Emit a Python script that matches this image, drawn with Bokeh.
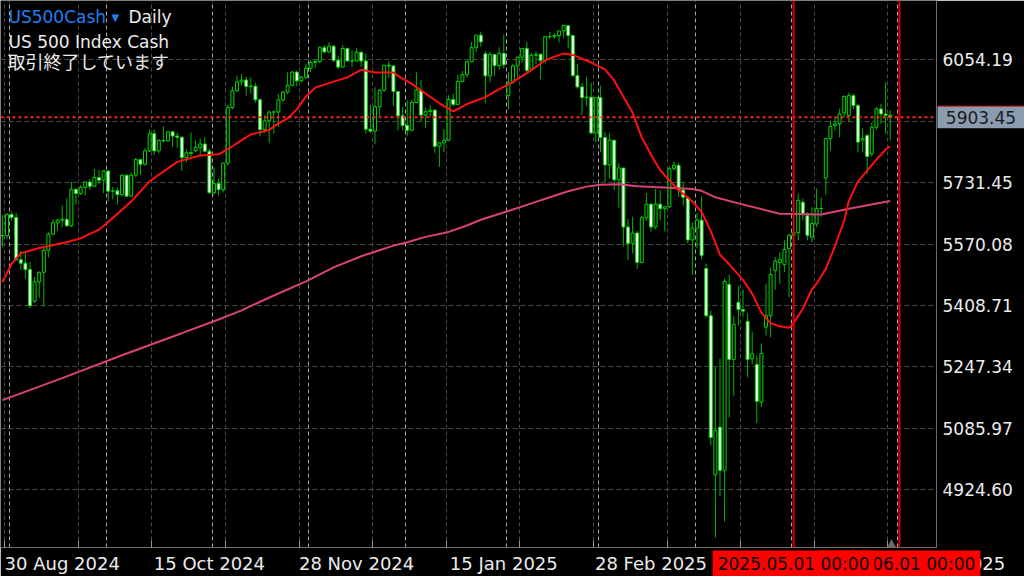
import pandas as pd
from bokeh.plotting import figure
from bokeh.models import (Range1d, FixedTicker, NumeralTickFormatter, ColumnDataSource,
                          Label, Span, Grid)
from bokeh.core.properties import value
from bokeh.embed import file_html
from bokeh.resources import INLINE

# ---------------- data ----------------
closed_days = ["2024-12-25", "2025-01-01", "2025-04-18"]
dates = [d for d in pd.bdate_range("2024-08-29", "2025-05-30")
         if d.strftime("%Y-%m-%d") not in closed_days]

opens = [
    5592, 5592, 5648, 5640, 5529, 5520, 5503, 5420, 5471, 5496,
    5554, 5596, 5626, 5633, 5635, 5618, 5714, 5703, 5719, 5733,
    5722, 5745, 5738, 5762, 5709, 5710, 5700, 5751, 5696, 5751,
    5792, 5780, 5815, 5860, 5815, 5842, 5841, 5865, 5854, 5851,
    5797, 5810, 5815, 5824, 5833, 5814, 5705, 5729, 5713, 5783,
    5929, 5973, 5996, 6001, 5984, 5985, 5949, 5871, 5894, 5917,
    5917, 5949, 5969, 5987, 6022, 5999, 6008, 6032, 6047, 6050,
    6086, 6075, 6090, 6053, 6035, 6084, 6051, 6051, 6074, 6051,
    5872, 5867, 5931, 5974, 6040, 6038, 5971, 5907, 5882, 5869,
    5942, 5975, 5909, 5918, 5922, 5827, 5836, 5843, 5950, 5937,
    5997, 6015, 6049, 6086, 6119, 6070, 6012, 6068, 6039, 6071,
    5960, 5995, 6038, 6061, 6084, 6030, 6066, 6069, 6052, 6115,
    6115, 6118, 6130, 6144, 6118, 6013, 5983, 5955, 5956, 5862,
    5955, 5850, 5778, 5843, 5739, 5770, 5615, 5572, 5599, 5522,
    5639, 5675, 5615, 5675, 5663, 5668, 5768, 5777, 5712, 5693,
    5581, 5612, 5633, 5506, 5382, 4964, 5089, 4976, 5464, 5267,
    5417, 5398, 5367, 5269, 5254, 5155, 5352, 5382, 5501, 5522,
    5516, 5558, 5593, 5600, 5680, 5645, 5588, 5623, 5663, 5744,
    5847, 5882, 5886, 5915, 5908, 5960, 5934, 5843, 5855, 5807,
    5877, 5925, 5912, 5908]
highs = [
    5647, 5651, 5656, 5652, 5552, 5546, 5523, 5484, 5498, 5560,
    5601, 5636, 5636, 5671, 5690, 5734, 5715, 5725, 5735, 5741,
    5767, 5765, 5765, 5765, 5720, 5719, 5753, 5752, 5758, 5797,
    5793, 5822, 5871, 5871, 5846, 5879, 5867, 5867, 5863, 5852,
    5818, 5863, 5843, 5847, 5851, 5820, 5772, 5741, 5784, 5936,
    5984, 6013, 6017, 6010, 6008, 5994, 5953, 5908, 5921, 5921,
    5964, 5973, 6021, 6025, 6025, 6012, 6044, 6054, 6053, 6090,
    6092, 6100, 6092, 6065, 6093, 6086, 6079, 6085, 6076, 6071,
    5936, 5982, 5978, 6040, 6050, 6040, 5972, 5930, 5949, 5949,
    6021, 6001, 5928, 5935, 5924, 5837, 5872, 5961, 5965, 6014,
    6025, 6052, 6101, 6119, 6128, 6078, 6075, 6070, 6087, 6121,
    6022, 6043, 6063, 6085, 6101, 6073, 6076, 6070, 6117, 6128,
    6125, 6130, 6147, 6145, 6120, 6044, 5993, 6010, 5994, 5956,
    5986, 5865, 5861, 5843, 5783, 5770, 5636, 5642, 5605, 5645,
    5704, 5676, 5715, 5711, 5671, 5775, 5787, 5784, 5732, 5695,
    5627, 5651, 5695, 5519, 5395, 5248, 5269, 5480, 5490, 5380,
    5461, 5451, 5388, 5340, 5277, 5309, 5466, 5509, 5536, 5549,
    5580, 5597, 5660, 5703, 5690, 5654, 5667, 5716, 5693, 5850,
    5895, 5903, 5926, 5960, 5968, 5965, 5939, 5874, 5860, 5890,
    5930, 5939, 5995, 5922]
lows = [
    5561, 5582, 5632, 5527, 5503, 5480, 5402, 5415, 5429, 5406,
    5535, 5594, 5604, 5614, 5615, 5615, 5674, 5700, 5698, 5712,
    5721, 5727, 5704, 5682, 5688, 5674, 5695, 5694, 5694, 5745,
    5751, 5775, 5812, 5804, 5808, 5838, 5840, 5825, 5823, 5762,
    5785, 5799, 5812, 5803, 5811, 5703, 5700, 5697, 5706, 5775,
    5924, 5970, 5987, 5960, 5966, 5942, 5853, 5862, 5835, 5861,
    5878, 5944, 5964, 5985, 5985, 5995, 6003, 6022, 6033, 6045,
    6071, 6072, 6048, 6030, 6033, 6050, 6036, 6050, 6035, 5860,
    5862, 5832, 5903, 5970, 6007, 5933, 5869, 5869, 5853, 5866,
    5940, 5891, 5875, 5905, 5810, 5773, 5812, 5840, 5931, 5935,
    5995, 6007, 6048, 6075, 6089, 5940, 5995, 6013, 6028, 6031,
    5924, 5991, 6007, 6046, 6020, 6028, 6042, 6003, 6045, 6108,
    6110, 6100, 6111, 6085, 6009, 5978, 5909, 5933, 5859, 5838,
    5811, 5733, 5742, 5712, 5666, 5564, 5528, 5546, 5505, 5520,
    5631, 5603, 5609, 5633, 5603, 5665, 5764, 5694, 5671, 5572,
    5489, 5559, 5530, 5377, 5041, 4799, 4907, 4841, 5114, 5172,
    5356, 5380, 5220, 5254, 5100, 5142, 5330, 5325, 5450, 5466,
    5497, 5430, 5585, 5580, 5632, 5580, 5575, 5614, 5641, 5700,
    5816, 5868, 5851, 5903, 5890, 5925, 5811, 5811, 5755, 5800,
    5870, 5886, 5860, 5842]
closes = [
    5592, 5648, 5640, 5529, 5520, 5503, 5408, 5471, 5496, 5554,
    5596, 5626, 5633, 5635, 5618, 5714, 5703, 5719, 5733, 5722,
    5745, 5738, 5762, 5709, 5710, 5700, 5751, 5696, 5751, 5792,
    5780, 5815, 5860, 5815, 5842, 5841, 5865, 5854, 5851, 5797,
    5810, 5808, 5824, 5833, 5814, 5705, 5729, 5713, 5783, 5929,
    5973, 5996, 6001, 5984, 5985, 5949, 5871, 5894, 5917, 5917,
    5949, 5969, 5987, 6022, 5999, 6008, 6032, 6047, 6050, 6086,
    6075, 6090, 6053, 6035, 6084, 6051, 6051, 6074, 6051, 5872,
    5867, 5931, 5974, 6040, 6038, 5971, 5907, 5882, 5869, 5942,
    5975, 5909, 5918, 5922, 5827, 5836, 5843, 5950, 5937, 5997,
    6015, 6049, 6086, 6119, 6101, 6012, 6068, 6039, 6071, 6041,
    5995, 6038, 6061, 6084, 6026, 6066, 6069, 6052, 6115, 6115,
    6118, 6130, 6144, 6118, 6013, 5983, 5955, 5956, 5862, 5955,
    5850, 5778, 5843, 5739, 5770, 5615, 5572, 5599, 5522, 5639,
    5675, 5615, 5675, 5663, 5668, 5768, 5777, 5712, 5693, 5581,
    5612, 5633, 5540, 5382, 5062, 5080, 4976, 5472, 5267, 5359,
    5398, 5394, 5267, 5282, 5157, 5283, 5382, 5490, 5525, 5530,
    5556, 5593, 5600, 5685, 5650, 5593, 5624, 5663, 5664, 5847,
    5879, 5886, 5912, 5958, 5960, 5934, 5838, 5847, 5800, 5877,
    5925, 5912, 5908, 5903.45]

# moving averages (bar index, value)
ma20_idx = [0, 2, 4, 8, 14, 17, 21, 23, 28, 32, 38, 43, 47, 50, 52, 54, 58, 60, 62, 64,
            66, 68, 71, 75, 78, 81, 85, 86, 89, 91, 95, 98, 101, 105, 108, 111, 115, 118,
            122, 124, 128, 131, 133, 134, 137, 139, 141, 143, 145, 147, 150, 152, 154, 156,
            158, 161, 163, 165, 167, 169, 171, 172, 174, 176, 177, 179, 181, 183, 184, 186,
            188, 190, 192, 193]
ma20_val = [5470, 5518, 5546, 5560, 5575, 5585, 5608, 5628, 5682, 5735, 5786, 5803, 5806,
            5827, 5843, 5858, 5870, 5887, 5900, 5924, 5958, 5981, 5993, 6008, 6028, 6021,
            6021, 6012, 5991, 5974, 5940, 5919, 5938, 5956, 5977, 5996, 6027, 6053, 6071,
            6067, 6047, 6029, 6000, 5978, 5915, 5850, 5805, 5764, 5737, 5712, 5682, 5655,
            5604, 5542, 5517, 5476, 5440, 5390, 5362, 5354, 5350, 5362, 5400, 5452, 5466,
            5505, 5565, 5632, 5683, 5735, 5763, 5792, 5818, 5827]
ma200_idx = [0, 13, 26, 39, 47, 52, 59, 66, 72, 78, 81, 85, 88, 92, 97, 101, 104, 110, 115,
             119, 123, 127, 130, 134, 138, 145, 150, 152, 155, 160, 169, 178, 184, 193]
ma200_val = [5160, 5218, 5278, 5336, 5372, 5396, 5435, 5472, 5509, 5538, 5550, 5566, 5575,
             5589, 5602, 5619, 5634, 5657, 5677, 5693, 5709, 5721, 5726, 5727, 5722, 5718,
             5715, 5710, 5693, 5677, 5650, 5648, 5663, 5683]

price_ticks = [6054.19, 5892.82, 5731.45, 5570.08, 5408.71, 5247.34, 5085.97, 4924.60]
last_price = 5903.45
symbol, timeframe = "US500Cash", "Daily"
description, status = "US 500 Index Cash", "取引終了しています"
marker_dates = ["2025.05.01 00:00", "2025.06.01 00:00"]

# ---------------- geometry ----------------
BAR_PX, X0_PX = 4.6, 1.9          # pixels per bar, pixel of the first bar
PTS_PER_PX, TOP_PRICE = 2.627, 6209.97
FRAME_W, FRAME_H = 936, 547
FONT = "DejaVu Sans"
TXT = "#ececec"
ABS = {"position": "absolute", "left": "0px", "top": "0px"}


def px_x(px):
    return (px - X0_PX) / BAR_PX


def px_y(py):
    return TOP_PRICE - PTS_PER_PX * py


n = len(dates)
idx = list(range(n))

p = figure(width=1024, height=576,
           x_range=Range1d(px_x(0), px_x(FRAME_W)),
           y_range=Range1d(px_y(FRAME_H), px_y(0)),
           output_backend="svg", toolbar_location=None, y_axis_location="right",
           background_fill_color="black", border_fill_color="black",
           outline_line_color=None,
           min_border_left=0, min_border_top=0, min_border_right=1024 - FRAME_W,
           min_border_bottom=576 - FRAME_H, styles=ABS)

# grid: regular (every 16 bars) and month separators
grid_ticks = [k + 0.5 for k in range(0, n + 16, 16)]
sep_ticks = [i - 0.4 for i in range(1, n) if dates[i].month != dates[i - 1].month]
sep_ticks.append(n - 1 + 2 - 0.4)
label_bars = list(range(1, n, 32))
LABEL_SHIFT = 12  # labels start at their bar, centred text -> shift right
label_ticks = [b + LABEL_SHIFT for b in label_bars]

xa = p.xaxis[0]
xa.ticker = FixedTicker(ticks=label_ticks, minor_ticks=grid_ticks)
xa.major_label_overrides = {b + LABEL_SHIFT: dates[b].strftime("%d %b %Y") for b in label_bars}
xa.major_label_text_font = FONT
xa.major_label_text_font_size = "18px"
xa.major_label_text_color = TXT
xa.major_tick_line_color = None
xa.major_tick_in = 0
xa.major_tick_out = 0
xa.minor_tick_in = 7
xa.minor_tick_out = 0
xa.minor_tick_line_color = "#9a9a9a"
xa.axis_line_color = "#6e6e6e"
xa.major_label_standoff = 5

ya = p.yaxis[0]
ya.ticker = FixedTicker(ticks=price_ticks)
ya.formatter = NumeralTickFormatter(format="0.00")
ya.major_tick_in = 0
ya.major_tick_out = 0
ya.minor_tick_line_color = None
ya.major_label_standoff = 6
ya.major_label_text_font = FONT
ya.major_label_text_font_size = "17px"
ya.major_label_text_color = TXT
ya.axis_line_color = "#6e6e6e"

p.ygrid[0].ticker = FixedTicker(ticks=price_ticks)
p.ygrid[0].grid_line_color = "#4a4a4a"
p.ygrid[0].grid_line_dash = "5 3"
p.xgrid[0].ticker = FixedTicker(ticks=grid_ticks)
p.xgrid[0].grid_line_color = "#4a4a4a"
p.xgrid[0].grid_line_dash = "4 3"
p.add_layout(Grid(dimension=0, ticker=FixedTicker(ticks=sep_ticks),
                  grid_line_color="#a6a6a6", grid_line_dash="4 3"))

# candles
tops = [max(o, c) for o, c in zip(opens, closes)]
bots = [min(o, c) for o, c in zip(opens, closes)]
fills = ["black" if c >= o else "white" for o, c in zip(opens, closes)]
src = ColumnDataSource(dict(x=idx, h=highs, l=lows, top=tops, bottom=bots, fill=fills))
p.segment(x0="x", y0="h", x1="x", y1="l", source=src, line_color="#00b800", line_width=1)
p.vbar(x="x", width=0.64, top="top", bottom="bottom", source=src,
       fill_color="fill", line_color="#00d800", line_width=1)

# moving averages
p.line(ma200_idx, ma200_val, line_color="#d8427a", line_width=2)
p.line(ma20_idx, ma20_val, line_color="#ff1010", line_width=2)

# current price & vertical time markers
p.add_layout(Span(location=last_price, dimension="width", line_color="#ff2020",
                  line_dash="3 3", line_width=2))
marker_x = [172, n - 1 + 2]
for mx in marker_x:
    p.add_layout(Span(location=mx, dimension="height", line_color="#e00000", line_width=2))

# header texts
p.add_layout(Label(x=px_x(8), y=px_y(16), text=symbol, text_color="#1f7fee",
                   text_font=FONT, text_font_size="17px", text_baseline="middle"))
p.add_layout(Label(x=px_x(111), y=px_y(17), text="▼", text_color="#1f7fee",
                   text_font=FONT, text_font_size="10px", text_baseline="middle"))
p.add_layout(Label(x=px_x(128), y=px_y(16), text=timeframe, text_color=TXT,
                   text_font=FONT, text_font_size="17px", text_baseline="middle"))
p.add_layout(Label(x=px_x(8), y=px_y(41), text=description, text_color=TXT,
                   text_font=FONT, text_font_size="17px", text_baseline="middle"))
p.add_layout(Label(x=px_x(7), y=px_y(60), text=status, text_color=TXT,
                   text_font="Noto Sans CJK JP", text_font_size="18px",
                   text_baseline="middle"))
p.add_layout(Label(x=px_x(891), y=px_y(542), text="▲", text_color="#6a6a6a",
                   text_font=FONT, text_font_size="11px", text_align="center",
                   text_baseline="middle"))

# ---------- overlay over the scales (same mapping, whole canvas) ----------
q = figure(width=1024, height=576,
           x_range=Range1d(px_x(0), px_x(1024)), y_range=Range1d(px_y(576), px_y(0)),
           output_backend="svg", toolbar_location=None,
           x_axis_location=None, y_axis_location=None,
           background_fill_color=None, border_fill_color=None, outline_line_color=None,
           min_border=0, styles=ABS)
q.grid.visible = False

# last time label partly hidden behind the marker boxes
last_lab = label_bars[-1]
q.text(x=[last_lab - 0.5], y=[px_y(563)], text=[dates[last_lab].strftime("%d %b %Y")],
       text_font=value(FONT), text_font_size=value("18px"), text_color=TXT,
       text_align="left", text_baseline="middle")

BOX_W, BOX_H = 162 / BAR_PX, 26 * PTS_PER_PX
for mx, txt in reversed(list(zip(marker_x, marker_dates))):
    q.rect(x=[mx], y=[px_y(563)], width=BOX_W, height=BOX_H,
           fill_color="#ff0000", line_color=None)
    q.text(x=[mx], y=[px_y(563)], text=[txt], text_font=value(FONT),
           text_font_size=value("17px"), text_color="black",
           text_align="center", text_baseline="middle")

# last price box on the price scale
PB_X0, PB_X1 = px_x(937), px_x(1024)
q.quad(left=[PB_X0], right=[PB_X1], top=[last_price + 11 * PTS_PER_PX],
       bottom=[last_price - 11 * PTS_PER_PX], fill_color="#8c9cb0", line_color=None)
q.segment(x0=[PB_X0], x1=[PB_X1], y0=[last_price + 11 * PTS_PER_PX],
          y1=[last_price + 11 * PTS_PER_PX], line_color="#e02020", line_width=1)
q.text(x=[(PB_X0 + PB_X1) / 2], y=[last_price], text=[f"{last_price:.2f}"],
       text_font=value(FONT), text_font_size=value("17px"), text_color="#1c1c1c",
       text_align="center", text_baseline="middle")

open("out.html", "w").write(file_html([p, q], INLINE))
